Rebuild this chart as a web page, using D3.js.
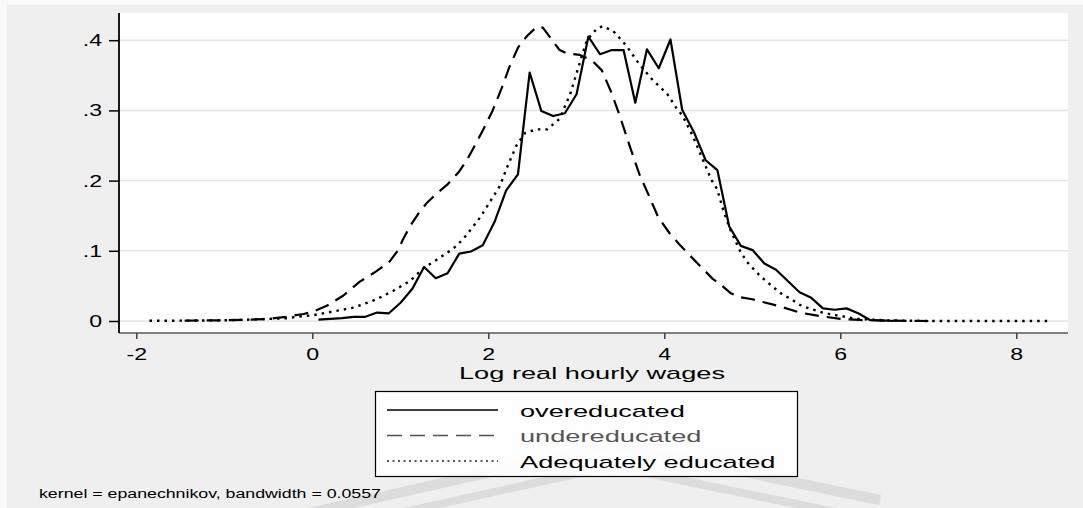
<!DOCTYPE html>
<html>
<head>
<meta charset="utf-8">
<script src="https://cdn.jsdelivr.net/npm/d3@7"></script>
<style>
  html, body { margin: 0; padding: 0; background: #fafafa; }
  svg { display: block; }
  text { font-family: "Liberation Sans", Arial, sans-serif; }
</style>
</head>
<body>
<svg id="chart" width="1083" height="508"></svg>
<script>
// Kernel density estimates of log real hourly wages by education match
const overX = [0.070,0.203,0.337,0.470,0.603,0.737,0.870,1.003,1.137,1.270,1.403,1.537,1.670,1.803,1.937,2.070,2.203,2.337,2.470,2.603,2.737,2.870,3.003,3.137,3.270,3.403,3.537,3.670,3.803,3.937,4.070,4.203,4.337,4.470,4.603,4.737,4.870,5.003,5.137,5.270,5.403,5.537,5.670,5.803,5.937,6.070,6.203,6.337,6.470,6.603];
const overY = [0.002,0.003,0.004,0.006,0.006,0.012,0.011,0.026,0.046,0.077,0.061,0.068,0.096,0.099,0.108,0.141,0.186,0.209,0.354,0.299,0.292,0.296,0.323,0.405,0.380,0.386,0.386,0.311,0.387,0.360,0.401,0.301,0.269,0.229,0.215,0.135,0.107,0.101,0.082,0.073,0.057,0.041,0.033,0.018,0.016,0.018,0.011,0.0014,0.001,0.0];

const underX = [-1.45,-1.0,-0.7,-0.5,-0.3,-0.1,0.0,0.17,0.35,0.54,0.73,0.88,0.97,1.03,1.11,1.20,1.30,1.40,1.54,1.67,1.76,1.83,1.94,2.05,2.15,2.24,2.34,2.44,2.55,2.62,2.72,2.81,2.90,3.04,3.18,3.29,3.40,3.50,3.61,3.72,3.82,3.93,4.06,4.18,4.27,4.41,4.55,4.63,4.75,4.86,5.00,5.12,5.31,5.54,5.77,6.00,6.22,6.50,7.00];
const underY = [0.0005,0.001,0.002,0.003,0.006,0.010,0.013,0.022,0.036,0.056,0.071,0.085,0.100,0.116,0.135,0.152,0.168,0.180,0.195,0.213,0.230,0.246,0.272,0.300,0.331,0.362,0.390,0.406,0.419,0.418,0.401,0.386,0.381,0.379,0.371,0.357,0.325,0.290,0.248,0.208,0.180,0.148,0.125,0.108,0.096,0.078,0.060,0.053,0.040,0.034,0.031,0.027,0.021,0.012,0.007,0.003,0.0015,0.0005,0.0];

const adeqX = [-1.85,-1.5,-1.0,-0.7,-0.5,-0.3,-0.1,0.0,0.17,0.47,0.73,0.92,1.11,1.26,1.41,1.53,1.64,1.75,1.91,2.02,2.13,2.21,2.32,2.42,2.55,2.67,2.81,2.93,3.04,3.12,3.23,3.30,3.42,3.57,3.72,3.87,4.03,4.14,4.21,4.33,4.44,4.54,4.60,4.67,4.75,4.86,4.94,5.09,5.24,5.35,5.43,5.54,5.62,5.80,5.96,6.19,6.50,7.00,8.38];
const adeqY = [0.0003,0.0005,0.001,0.002,0.003,0.004,0.007,0.008,0.012,0.019,0.031,0.043,0.057,0.075,0.087,0.097,0.107,0.122,0.148,0.170,0.192,0.218,0.250,0.268,0.273,0.273,0.288,0.323,0.368,0.400,0.416,0.420,0.413,0.392,0.365,0.343,0.324,0.303,0.292,0.262,0.229,0.200,0.188,0.158,0.130,0.100,0.084,0.064,0.048,0.037,0.032,0.023,0.019,0.012,0.008,0.003,0.001,0.0,0.0];

const xTicks = [-2, 0, 2, 4, 6, 8];
const yTicks = [0, 0.1, 0.2, 0.3, 0.4];
const yTickLabels = ["0", ".1", ".2", ".3", ".4"];

const seriesNames = ["overeducated", "undereducated", "Adequately educated"];
const xTitle = "Log real hourly wages";
const note = "kernel = epanechnikov, bandwidth = 0.0557";

const svg = d3.select("#chart");

// plot region
const plot = { left: 119, right: 1068, top: 13, bottom: 333 };
const x = d3.scaleLinear().domain([-2, 8]).range([136.3, 1016.3]);
const y = d3.scaleLinear().domain([0, 0.4]).range([321, 40.2]);

// outer graph region and inner plot region
svg.append("rect").attr("x", 7).attr("y", 5).attr("width", 1076).attr("height", 503).attr("fill", "#efefef");
svg.append("rect").attr("x", plot.left).attr("y", plot.top)
  .attr("width", plot.right - plot.left).attr("height", plot.bottom - plot.top).attr("fill", "#ffffff");

// horizontal gridlines
svg.append("g").selectAll("line").data(yTicks).join("line")
  .attr("x1", plot.left).attr("x2", plot.right)
  .attr("y1", d => y(d)).attr("y2", d => y(d))
  .attr("stroke", "#e4e4e4").attr("stroke-width", 1.5);

// horizontal text stretch used throughout the graph
const TX = 1.36, TT = 1.6, TN = 1.42;

// x axis
const xAxis = svg.append("g").attr("transform", `translate(0,${plot.bottom})`)
  .call(d3.axisBottom(x).tickValues(xTicks).tickSize(6).tickPadding(9).tickFormat(d3.format("d")));
xAxis.select(".domain").attr("d", `M${plot.left},0H${plot.right}`).attr("stroke", "#808080").attr("stroke-width", 2);
xAxis.selectAll(".tick line").attr("stroke", "#404040").attr("stroke-width", 1.5);
xAxis.selectAll(".tick text").attr("font-size", 17).attr("fill", "#000")
  .attr("font-family", "Liberation Sans, Arial, sans-serif")
  .attr("transform", `scale(${TX},1)`)
  .text(d => d < 0 ? "-" + Math.abs(d) : d);

// y axis
const yAxis = svg.append("g").attr("transform", `translate(${plot.left},0)`)
  .call(d3.axisLeft(y).tickValues(yTicks).tickSize(10).tickPadding(7)
    .tickFormat((d, i) => yTickLabels[i]));
yAxis.select(".domain").attr("d", `M0,${plot.top}V${plot.bottom}`).attr("stroke", "#000").attr("stroke-width", 1.8);
yAxis.selectAll(".tick line").attr("stroke", "#000").attr("stroke-width", 1.5);
yAxis.selectAll(".tick text").attr("font-size", 17).attr("fill", "#000")
  .attr("font-family", "Liberation Sans, Arial, sans-serif")
  .attr("x", -17 / TX)
  .attr("transform", `scale(${TX},1)`);

// density curves
const line = d3.line().x(d => x(d[0])).y(d => y(d[1]));
const styles = [
  { xs: overX, ys: overY, dash: null, color: "#000", width: 2.2 },
  { xs: underX, ys: underY, dash: "14,8", color: "#000", width: 2.2 },
  { xs: adeqX, ys: adeqY, dash: "2.5,5", color: "#000", width: 2.4 }
];
const curves = svg.append("g");
styles.forEach(s => {
  curves.append("path")
    .datum(d3.zip(s.xs, s.ys))
    .attr("d", line)
    .attr("fill", "none")
    .attr("stroke", s.color)
    .attr("stroke-width", s.width)
    .attr("stroke-linejoin", "round")
    .attr("stroke-dasharray", s.dash);
});

// stretched text helper
function label(g, txt, px, py, size, sx, anchor, color) {
  return g.append("text")
    .attr("transform", `translate(${px},${py}) scale(${sx},1)`)
    .attr("font-size", size)
    .attr("text-anchor", anchor)
    .attr("dominant-baseline", "central")
    .attr("fill", color)
    .text(txt);
}

// x axis title
label(svg, xTitle, 592, 373, 17, TT, "middle", "#000");

// faint watermark bands across the bottom
const wm = svg.append("g").attr("opacity", 0.18).attr("fill", "none").attr("stroke", "#8a8a8a");
wm.append("path").attr("d", "M300,515 L612,445 L880,500").attr("stroke-width", 10);
wm.append("path").attr("d", "M390,515 L612,466 L850,515").attr("stroke-width", 8);

// legend
const leg = svg.append("g");
leg.append("rect").attr("x", 375.5).attr("y", 391.5).attr("width", 422).attr("height", 85)
  .attr("fill", "#fff").attr("fill-opacity", 0.9).attr("stroke", "#000").attr("stroke-width", 1.2);
const legRows = [
  { y: 410, dash: null, color: "#000", text: "#000" },
  { y: 435.5, dash: "15,8", color: "#555", text: "#555" },
  { y: 461, dash: "2,3.5", color: "#222", text: "#000" }
];
legRows.forEach((r, i) => {
  leg.append("line").attr("x1", 387).attr("x2", 498).attr("y1", r.y).attr("y2", r.y)
    .attr("stroke", r.color).attr("stroke-width", 1.6).attr("stroke-dasharray", r.dash);
  label(leg, seriesNames[i], 520, r.y + 1, 17, TT, "start", r.text);
});

// note
label(svg, note, 39, 494, 12.5, TN, "start", "#000");
</script>
</body>
</html>
